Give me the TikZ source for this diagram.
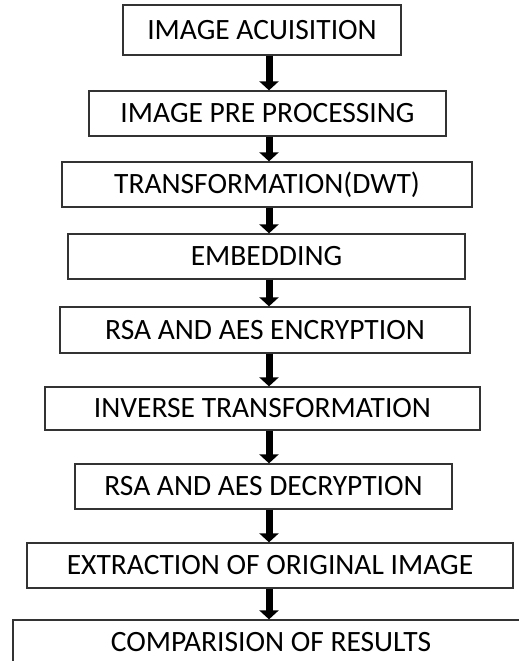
\documentclass[tikz,border=0pt]{standalone}
\usepackage{fontspec}
\setmainfont{Carlito}
\usetikzlibrary{arrows.meta, positioning}

\begin{document}
\begin{tikzpicture}[
        x=1pt, y=-1pt,
        stage/.style={draw=black!80, line width=1.3pt, inner sep=0pt, align=center,
                      font=\fontsize{29.5}{34}\selectfont},
        arrow/.style={line width=7pt, -{Triangle[width=19pt, length=9pt]}}
        ]

        % Page frame
        \useasboundingbox (0,0) rectangle (519,661);
        \clip (0,0) rectangle (519,661);

        % Nodes
        \node[stage, minimum width=278pt, minimum height=50pt] (acquisition) at (262,30) {IMAGE ACUISITION};
        \node[stage, minimum width=357pt, minimum height=45pt] (preprocess) at (267.5,113.5) {IMAGE PRE PROCESSING};
        \node[stage, minimum width=410pt, minimum height=45pt] (dwt) at (267,184.5) {TRANSFORMATION(DWT)};
        \node[stage, minimum width=397pt, minimum height=45pt] (embed) at (266.5,256.5) {EMBEDDING};
        \node[stage, minimum width=410pt, minimum height=46pt] (encrypt) at (265,330) {RSA AND AES ENCRYPTION};
        \node[stage, minimum width=435pt, minimum height=43pt] (inverse) at (262.5,408.5) {INVERSE TRANSFORMATION};
        \node[stage, minimum width=377pt, minimum height=45pt] (decrypt) at (263.5,486.5) {RSA AND AES DECRYPTION};
        \node[stage, minimum width=486pt, minimum height=45pt] (extract) at (270,565.5) {EXTRACTION OF ORIGINAL IMAGE};
        \node[stage, minimum width=516pt, minimum height=45pt] (compare) at (271,642.5) {COMPARISION OF RESULTS};

        \coordinate (flow) at (269,0);

        \draw [arrow] (acquisition.south -| flow) -- (preprocess.north -| flow);
        \draw [arrow] (preprocess.south -| flow) -- (dwt.north -| flow);
        \draw [arrow] (dwt.south -| flow) -- (embed.north -| flow);
        \draw [arrow] (embed.south -| flow) -- (encrypt.north -| flow);
        \draw [arrow] (encrypt.south -| flow) -- (inverse.north -| flow);
        \draw [arrow] (inverse.south -| flow) -- (decrypt.north -| flow);
        \draw [arrow] (decrypt.south -| flow) -- (extract.north -| flow);
        \draw [arrow] (extract.south -| flow) -- (compare.north -| flow);

    \end{tikzpicture}
\end{document}
